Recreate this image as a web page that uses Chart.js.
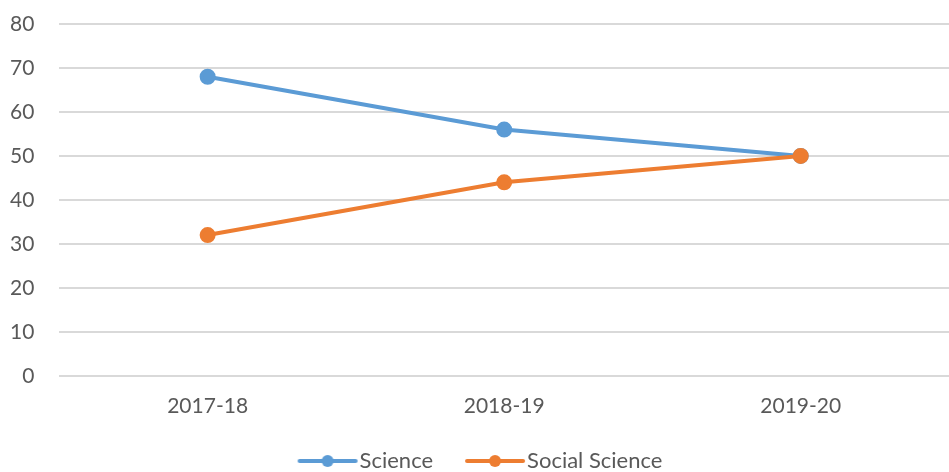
<!DOCTYPE html>
<html>
<head>
<meta charset="utf-8">
<script src="https://cdn.jsdelivr.net/npm/chart.js@4/dist/chart.umd.min.js"></script>
<style>
  html, body { margin: 0; padding: 0; background: #fff; overflow: hidden; }
  #wrap { width: 949px; height: 472px; position: relative; }
</style>
</head>
<body>
<div id="wrap"><canvas id="c"></canvas></div>
<script>
// Academic years on the x axis
const categories = ['2017-18', '2018-19', '2019-20'];
// Share of students per stream (%)
const science = [68, 56, 50];
const socialScience = [32, 44, 50];
const yTicks = [0, 10, 20, 30, 40, 50, 60, 70, 80];

const BLUE = '#5B9BD5';
const ORANGE = '#ED7D31';

// Legend swatch: a short line with a dot in the middle, set a little
// right of the image centre so it sits close to its label
function legendSwatch(color) {
  const cv = document.createElement('canvas');
  cv.width = 72; cv.height = 14;
  const g = cv.getContext('2d');
  g.strokeStyle = color; g.lineWidth = 4; g.lineCap = 'round';
  g.beginPath(); g.moveTo(13, 7); g.lineTo(69, 7); g.stroke();
  g.fillStyle = color;
  g.beginPath(); g.arc(41, 7, 6, 0, Math.PI * 2); g.fill();
  return cv;
}

const font = { family: 'Lato, "Open Sans", sans-serif', size: 21 };
const legendFont = { family: 'Lato, "Open Sans", sans-serif', size: 22 };
const X_PAD = 18;
const Y_PAD = 25;

new Chart(document.getElementById('c'), {
  type: 'line',
  data: {
    labels: categories,
    datasets: [
      { label: 'Science', data: science, borderColor: BLUE, backgroundColor: BLUE,
        borderWidth: 4, pointRadius: 6, pointHoverRadius: 6, tension: 0, order: 1 },
      { label: 'Social Science', data: socialScience, borderColor: ORANGE, backgroundColor: ORANGE,
        borderWidth: 4, pointRadius: 6, pointHoverRadius: 6, tension: 0, order: 0 }
    ]
  },
  options: {
    responsive: true,
    maintainAspectRatio: false,
    animation: false,
    layout: { autoPadding: false, padding: { top: 24, right: 0, left: 10, bottom: -10 } },
    plugins: {
      tooltip: { enabled: false },
      legend: {
        position: 'bottom',
        labels: {
          color: '#595959',
          font: legendFont,
          usePointStyle: true,
          pointStyleWidth: 52,
          boxHeight: 14,
          padding: 31,
          generateLabels(chart) {
            return chart.data.datasets.map((ds, i) => ({
              text: ds.label,
              fillStyle: ds.borderColor,
              strokeStyle: ds.borderColor,
              lineWidth: 0,
              pointStyle: legendSwatch(ds.borderColor),
              datasetIndex: i,
              hidden: false,
              fontColor: '#595959'
            }));
          }
        }
      }
    },
    scales: {
      x: {
        offset: true,
        grid: { display: false, drawTicks: false },
        border: { display: false },
        ticks: { color: '#595959', font: font, padding: X_PAD },
        afterFit(scale) {
          scale.paddingLeft = 0; scale.paddingRight = 0;
          scale.height -= X_PAD;
        }
      },
      y: {
        min: 0, max: 80,
        afterBuildTicks(axis) { axis.ticks = yTicks.map(v => ({ value: v })); },
        grid: { color: '#D9D9D9', lineWidth: 2, drawTicks: false },
        border: { display: false },
        ticks: { color: '#595959', font: font, padding: Y_PAD },
        afterFit(scale) {
          scale.paddingTop = 0; scale.paddingBottom = 0;
          scale.width -= Y_PAD;
        }
      }
    }
  }
});
</script>
</body>
</html>
